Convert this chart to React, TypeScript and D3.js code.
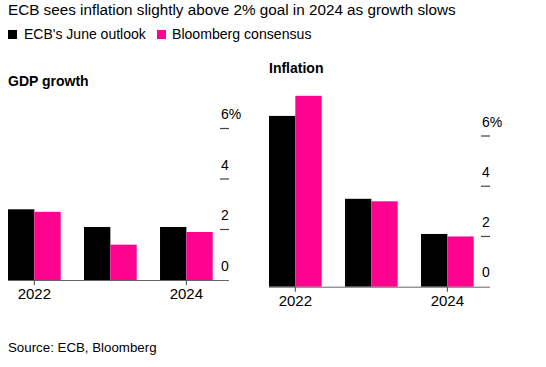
import React from "react";
import * as d3 from "d3";

const years = ["2022", "2023", "2024"];
const labeledYears = ["2022", "2024"];
const gdpEcb = [2.8, 2.1, 2.1];
const gdpBloomberg = [2.7, 1.4, 1.9];
const inflEcb = [6.8, 3.5, 2.1];
const inflBloomberg = [7.6, 3.4, 2.0];
const yTicks = [0, 2, 4, 6];
const seriesNames = ["ECB's June outlook", "Bloomberg consensus"];
const colors = ["#000000", "#ff0290"];

const W = 546;
const H = 367;
const font = "'Liberation Sans', Arial, Helvetica, sans-serif";

type PanelProps = {
  title: string;
  titleY: number;
  ecb: number[];
  bbg: number[];
  x0: number;
  x1: number;
  axisEnd: number;
  base: number;
  top: number;
};

const Panel = ({ title, titleY, ecb, bbg, x0, x1, axisEnd, base, top }: PanelProps) => {
  const x = d3.scaleBand().domain(years).range([x0, x1]).paddingInner(0.307).paddingOuter(0);
  const sub = d3.scaleBand().domain(["ecb", "bbg"]).range([0, x.bandwidth()]);
  const y = d3.scaleLinear().domain([0, 6]).range([base, top]);
  const tickX = axisEnd - 9;

  return (
    <g>
      <text x={x0} y={titleY} fontSize={14} fontWeight="bold" fill="#000">
        {title}
      </text>
      {years.map((yr, i) => (
        <g key={yr} transform={`translate(${x(yr)},0)`}>
          <rect x={sub("ecb")} y={y(ecb[i])} width={sub.bandwidth()} height={base - y(ecb[i])} fill={colors[0]} />
          <rect x={sub("bbg")} y={y(bbg[i])} width={sub.bandwidth()} height={base - y(bbg[i])} fill={colors[1]} />
        </g>
      ))}
      <line x1={x0} x2={axisEnd} y1={base + 0.5} y2={base + 0.5} stroke="#666" strokeWidth={1} />
      {labeledYears.map((yr) => {
        const cx = (x(yr) ?? 0) + x.bandwidth() / 2;
        return (
          <g key={yr}>
            <line x1={cx} x2={cx} y1={base} y2={base + 5} stroke="#444" strokeWidth={1} />
            <text x={cx} y={base + 19} fontSize={15} textAnchor="middle" fill="#000">
              {yr}
            </text>
          </g>
        );
      })}
      {yTicks.map((t) => (
        <g key={t}>
          {t > 0 && (
            <line x1={tickX} x2={axisEnd} y1={y(t)} y2={y(t)} stroke="#444" strokeWidth={1.2} />
          )}
          <text x={tickX + 1} y={y(t) - 9.5} fontSize={14} fill="#000">
            {t === 6 ? "6%" : t}
          </text>
        </g>
      ))}
    </g>
  );
};

export default function App() {
  return (
    <svg
      width={W}
      height={H}
      style={{ position: "absolute", left: 0, top: 0, background: "#fff", fontFamily: font }}
    >
      <text x={8} y={15} fontSize={15.25} fill="#000">
        ECB sees inflation slightly above 2% goal in 2024 as growth slows
      </text>
      <g>
        <rect x={8} y={30} width={9} height={9} fill={colors[0]} />
        <text x={24} y={39} fontSize={14} fill="#000">{seriesNames[0]}</text>
        <rect x={157} y={30} width={9} height={9} fill={colors[1]} />
        <text x={172} y={39} fontSize={14.1} fill="#000">{seriesNames[1]}</text>
      </g>
      <Panel
        title="GDP growth"
        titleY={86}
        ecb={gdpEcb}
        bbg={gdpBloomberg}
        x0={8}
        x1={212.7}
        axisEnd={229}
        base={280}
        top={128.5}
      />
      <Panel
        title="Inflation"
        titleY={73}
        ecb={inflEcb}
        bbg={inflBloomberg}
        x0={269}
        x1={473.7}
        axisEnd={490}
        base={286.7}
        top={136}
      />
      <text x={8} y={352} fontSize={13.3} fill="#000">
        Source: ECB, Bloomberg
      </text>
    </svg>
  );
}
